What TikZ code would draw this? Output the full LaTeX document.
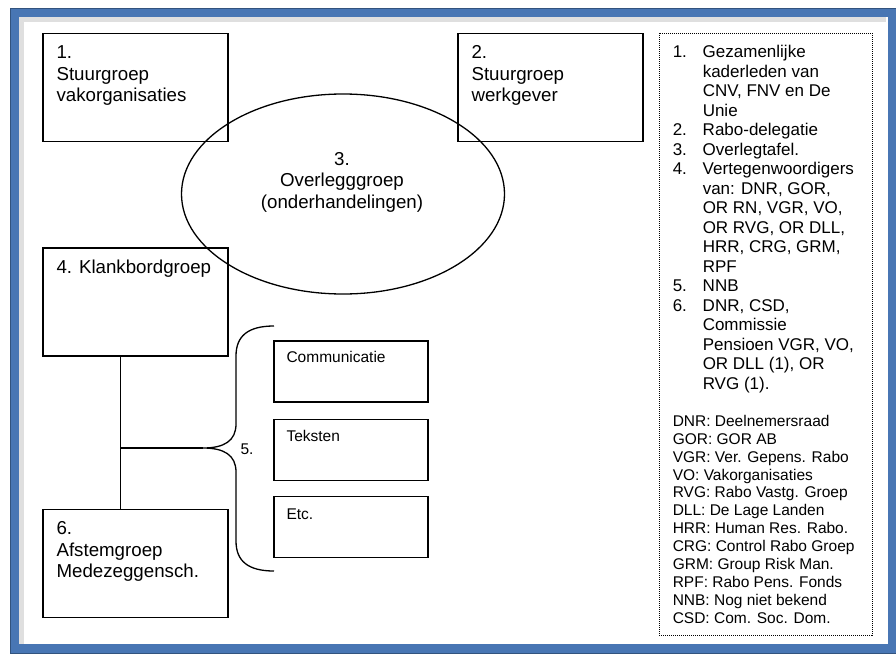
\documentclass[tikz,border=0pt]{standalone}
\usepackage{fontspec}
\setmainfont{Liberation Sans}
\usepackage{tikz}
\usetikzlibrary{positioning, shapes.geometric}

\definecolor{kaderblauw}{RGB}{72,118,180}
\newcommand{\boxfont}{\fontsize{18.7}{21.5}\selectfont}
\newcommand{\legfont}{\fontsize{17}{19.5}\selectfont}
\newcommand{\klein}{\fontsize{15.5}{17.9}\selectfont}
\newcommand{\regels}[1]{\begin{tabular}{@{}l@{}}#1\end{tabular}}

\begin{document}
\begin{tikzpicture}[x=1pt, y=-1pt,
  groep/.style={draw, line width=1.3pt, minimum width=185pt, minimum height=108pt, inner sep=0pt},
  taak/.style={draw, line width=1.3pt, minimum width=154pt, minimum height=61pt, inner sep=0pt},
  boxtext/.style={inner sep=0pt, font=\boxfont},
  taaktext/.style={inner sep=0pt, font=\klein},
  lijn/.style={line width=1.3pt}]
\useasboundingbox (0,0) rectangle (896,653);
% frame
\draw[gray!25, line width=5pt] (21.5,645) -- (21.5,19.5) -- (886,19.5);
\draw[kaderblauw, line width=9pt] (14.5,12.5) rectangle (892.5,648.5);
\draw[kaderblauw!70!black, line width=0.8pt] (10,8) rectangle (897,653);

% groepen
\node[groep] (b1) at (135.5,87.5) {};
\node[groep] (b2) at (550.5,87.5) {};
\node[draw, ellipse, line width=1.3pt, minimum width=323pt, minimum height=200pt, inner sep=0pt] (b3) at (343,194) {};
\node[groep] (b4) at (135.5,302) {};
\node[groep] (b6) at (135.5,563.5) {};

\node[boxtext, below right=10.65pt and 14pt of b1.north west] (t1) {\regels{1.\\Stuurgroep\\vakorganisaties}};
\node[boxtext, below right=10.65pt and 14pt of b2.north west] (t2) {\regels{2.\\Stuurgroep\\werkgever}};
\node[boxtext] (t3) at (342,182.4) {\begin{tabular}{@{}c@{}}3.\\Overlegggroep\\(onderhandelingen)\end{tabular}};
\node[boxtext, below right=10.65pt and 14pt of b4.north west] (t4) {\regels{4. Klankbordgroep}};
\node[boxtext, below right=10.65pt and 14pt of b6.north west] (t6) {\regels{6.\\Afstemgroep\\Medezeggensch.}};

% werkgroepen
\node[taak] (comm) at (351,371.5) {};
\node[taak, below=16pt of comm] (tekst) {};
\node[taak, below=15pt of tekst] (etc) {};
\node[taaktext, below right=9pt and 13pt of comm.north west] (tcomm) {\regels{Communicatie}};
\node[taaktext, below right=10pt and 13pt of tekst.north west] (ttekst) {\regels{Teksten}};
\node[taaktext, below right=11pt and 13pt of etc.north west] (tetc) {\regels{Etc.}};
\node[taaktext] (nr5) at (247,449) {5.};

% verbindingen
\coordinate (knoop) at (120.5,448);
\coordinate (accTop) at (274,326);
\coordinate (accTip) at (203,448);
\coordinate (accBot) at (274,571);
\draw[lijn] (b4.south -| knoop) -- (b6.north -| knoop);
\draw[lijn] (knoop) -- (accTip);
\draw[lijn] (accTop) .. controls (248,326) and (236,336) .. (236,356) -- (236,424)
  .. controls (236,441) and (224,448) .. (accTip)
  .. controls (224,448) and (236,455) .. (236,472) -- (236,541)
  .. controls (236,561) and (248,571) .. (accBot);

% legenda
\node[draw, dash pattern=on 1pt off 1pt, line width=0.9pt, minimum width=213pt, minimum height=602pt, inner sep=0pt] (legenda) at (765.5,334) {};
\node[inner sep=0pt, font=\legfont, below right=11.45pt and 14pt of legenda.north west] (lijst) {%
\begin{tabular}{@{}p{30pt}@{}l@{}}
1. & Gezamenlijke\\
   & kaderleden van\\
   & CNV, FNV en De\\
   & Unie\\
2. & Rabo-delegatie\\
3. & Overlegtafel.\\
4. & Vertegenwoordigers\\
   & van: DNR, GOR,\\
   & OR RN, VGR, VO,\\
   & OR RVG, OR DLL,\\
   & HRR, CRG, GRM,\\
   & RPF\\
5. & NNB\\
6. & DNR, CSD,\\
   & Commissie\\
   & Pensioen VGR, VO,\\
   & OR DLL (1), OR\\
   & RVG (1).
\end{tabular}};
\node[inner sep=0pt, font=\klein, below right=381.1pt and 14pt of legenda.north west] (afk) {%
\regels{DNR: Deelnemersraad\\GOR: GOR AB\\VGR: Ver. Gepens. Rabo\\VO: Vakorganisaties\\RVG: Rabo Vastg. Groep\\DLL: De Lage Landen\\HRR: Human Res. Rabo.\\CRG: Control Rabo Groep\\GRM: Group Risk Man.\\RPF: Rabo Pens. Fonds\\NNB: Nog niet bekend\\CSD: Com. Soc. Dom.}};
\end{tikzpicture}
\end{document}
